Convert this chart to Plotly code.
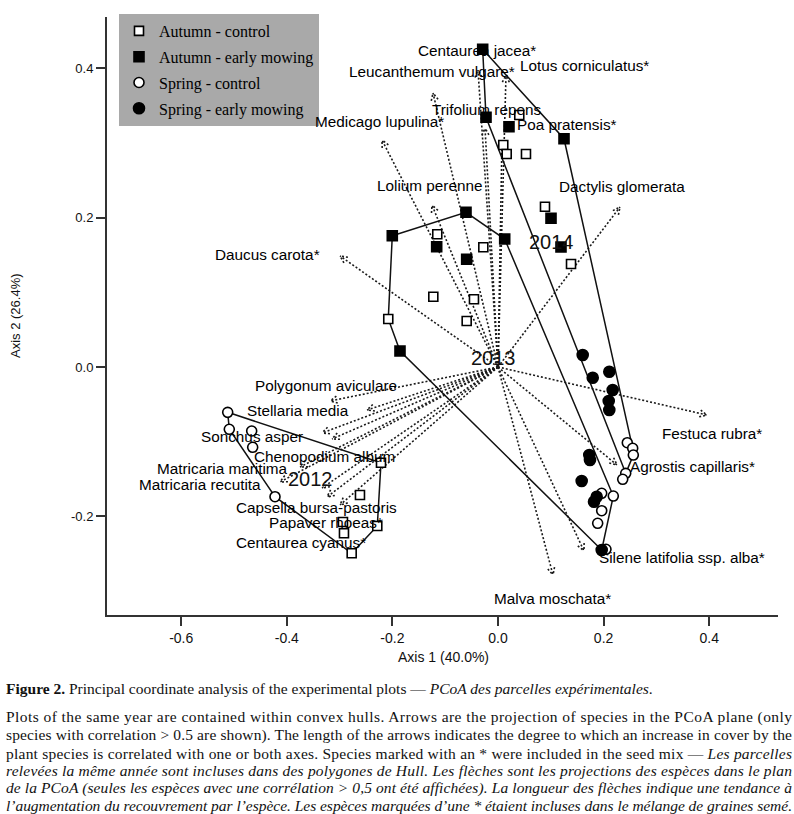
import math
import plotly.graph_objects as go

# --- point scores (Axis 1, Axis 2) ---
autumn_control_x = [0.0403, 0.0100, 0.0165, 0.0530, 0.0890, 0.1383,
                    -0.1150, -0.0278, -0.1225, -0.0455, -0.0593, -0.2078,
                    -0.2216, -0.2614, -0.2286, -0.2936, -0.2917, -0.2771]
autumn_control_y = [0.3375, 0.2973, 0.2853, 0.2853, 0.2147, 0.1379,
                    0.1777, 0.1603, 0.0941, 0.0907, 0.0616, 0.0643,
                    -0.1282, -0.1714, -0.2129, -0.2076, -0.2227, -0.2495]

autumn_mowing_x = [-0.0290, -0.0227, 0.0208, 0.1250, 0.1004, 0.1193,
                   -0.2002, -0.0606, 0.0127, -0.1161, -0.0593, -0.1856]
autumn_mowing_y = [0.4255, 0.3344, 0.3218, 0.3057, 0.1991, 0.1607,
                   0.1758, 0.2072, 0.1714, 0.1611, 0.1442, 0.0214]

spring_control_x = [-0.5119, -0.5089, -0.4665, -0.4646, -0.4223,
                    0.2449, 0.2551, 0.2563, 0.2419, 0.2362, 0.2184,
                    0.1964, 0.1964, 0.1888, 0.2045]
spring_control_y = [-0.0607, -0.0834, -0.0857, -0.1075, -0.1737,
                    -0.1014, -0.1089, -0.1179, -0.1424, -0.1504, -0.1728,
                    -0.1691, -0.1924, -0.2093, -0.2441]

spring_mowing_x = [0.1604, 0.1794, 0.2108, 0.2172, 0.2097, 0.2108,
                   0.1729, 0.1742, 0.1585, 0.1869, 0.1818, 0.1964]
spring_mowing_y = [0.0161, -0.0143, -0.0063, -0.0308, -0.0455, -0.0576,
                   -0.1179, -0.1245, -0.1527, -0.1737, -0.1804, -0.2451]

# --- convex hulls per year ---
hull_2012_x = [-0.5119, -0.2216, -0.2286, -0.2771, -0.4223, -0.5089, -0.5119]
hull_2012_y = [-0.0607, -0.1282, -0.2129, -0.2495, -0.1737, -0.0834, -0.0607]
hull_2013_x = [-0.2002, -0.0606, 0.0127, 0.2184, 0.1964, -0.1856, -0.2078, -0.2002]
hull_2013_y = [0.1758, 0.2072, 0.1714, -0.1728, -0.2451, 0.0214, 0.0643, 0.1758]
hull_2014_x = [-0.0290, 0.1250, 0.2551, 0.2563, 0.2419, -0.0227, -0.0290]
hull_2014_y = [0.4255, 0.3057, -0.1089, -0.1179, -0.1424, 0.3344, 0.4255]

years = ["2012", "2013", "2014"]
year_x = [-0.356, -0.0076, 0.1004]
year_y = [-0.150, 0.0121, 0.1674]

# --- species vectors ---
species = ["Centaurea jacea*", "Leucanthemum vulgare*", "Lotus corniculatus*",
           "Trifolium repens", "Poa pratensis*", "Medicago lupulina*",
           "Lolium perenne", "Daucus carota*", "Dactylis glomerata",
           "Festuca rubra*", "Agrostis capillaris*", "Silene latifolia ssp. alba*",
           "Malva moschata*", "Polygonum aviculare", "Stellaria media",
           "Sonchus asper", "Chenopodium album", "Matricaria maritima",
           "Matricaria recutita", "Capsella bursa-pastoris", "Papaver rhoeas*",
           "Centaurea cyanus*"]
vec_x = [-0.0379, -0.1231, 0.0152, -0.0246, 0.0076, -0.2197, -0.1250, -0.2992,
         0.2311, 0.3958, 0.2254, 0.1629, 0.1042, -0.3182, -0.2481, -0.3333,
         -0.3144, -0.3750, -0.4129, -0.3333, -0.3239, -0.2992]
vec_y = [0.3977, 0.3669, 0.3911, 0.3201, 0.3040, 0.3040, 0.2170, 0.1487,
         0.2143, -0.0643, -0.1312, -0.2464, -0.2786, -0.0455, -0.0576, -0.0884,
         -0.0964, -0.1339, -0.1540, -0.1620, -0.1741, -0.1848]
label_x = [-0.0398, -0.1250, 0.1629, -0.0227, 0.1307, -0.2235, -0.1288, -0.4356,
           0.2348, 0.4053, 0.3693, 0.3485, 0.1023, -0.3258, -0.3788, -0.4659,
           -0.3277, -0.5227, -0.5644, -0.3428, -0.3258, -0.3731]
label_y = [0.4232, 0.3951, 0.4044, 0.3442, 0.3241, 0.3281, 0.2437, 0.1513,
           0.2411, -0.0884, -0.1326, -0.2545, -0.3094, -0.0254, -0.0589, -0.0924,
           -0.1205, -0.1353, -0.1567, -0.1875, -0.2076, -0.2344]

x_ticks = [-0.6, -0.4, -0.2, 0.0, 0.2, 0.4]
y_ticks = [-0.2, 0.0, 0.2, 0.4]

# --- layout geometry ---
W, H = 794, 814
ML, MR, MT, MB = 107, 16, 17, 199
X_RANGE = [-0.7405, 0.5303]
Y_RANGE = [-0.3321, 0.4687]
PW, PH = W - ML - MR, H - MT - MB
SX = PW / (X_RANGE[1] - X_RANGE[0])
SY = PH / (Y_RANGE[1] - Y_RANGE[0])


def px(x):
    return (x - ML) / PW


def py(y):
    return 1 - (y - MT) / PH


# arrow shafts and heads (heads computed in pixel space)
arr_x, arr_y = [], []
HEAD, ANG = 8.0, 0.45
for tx, ty in zip(vec_x, vec_y):
    dx, dy = tx * SX, ty * SY
    n = math.hypot(dx, dy)
    ux, uy = dx / n, dy / n
    arr_x += [0, tx, None]
    arr_y += [0, ty, None]
    for a in (ANG, -ANG):
        c, s = math.cos(a), math.sin(a)
        bx = -(ux * c - uy * s) * HEAD
        by = -(ux * s + uy * c) * HEAD
        arr_x += [tx + bx / SX, tx, None]
        arr_y += [ty + by / SY, ty, None]

fig = go.Figure()

fig.add_trace(go.Scatter(
    x=arr_x, y=arr_y, mode="lines", hoverinfo="skip", showlegend=False,
    line=dict(color="#1a1a1a", width=1.6, dash="2px,2px")
))

for hx, hy in [(hull_2012_x, hull_2012_y), (hull_2013_x, hull_2013_y),
               (hull_2014_x, hull_2014_y)]:
    fig.add_trace(go.Scatter(
        x=hx, y=hy, mode="lines", showlegend=False, hoverinfo="skip",
        line=dict(color="#111111", width=1.5)
    ))

groups = [
    ("Autumn - control", autumn_control_x, autumn_control_y, "square", "white", 9),
    ("Autumn - early mowing", autumn_mowing_x, autumn_mowing_y, "square", "black", 10),
    ("Spring - control", spring_control_x, spring_control_y, "circle", "white", 10),
    ("Spring - early mowing", spring_mowing_x, spring_mowing_y, "circle", "black", 11),
]
for i, (name, gx, gy, sym, fill, size) in enumerate(groups):
    fig.add_trace(go.Scatter(
        x=gx, y=gy, mode="markers", name=name, legendgroup=str(i),
        marker=dict(symbol=sym, color=fill, size=size,
                    line=dict(color="black", width=1.6))
    ))

annotations = []
for name, lx, ly in zip(species, label_x, label_y):
    annotations.append(dict(
        x=lx, y=ly, xref="x", yref="y", text=name, showarrow=False,
        xanchor="center", yanchor="middle",
        font=dict(family="Liberation Sans, Arial", size=15.3, color="#000")
    ))
for yr, yx, yy in zip(years, year_x, year_y):
    annotations.append(dict(
        x=yx, y=yy, xref="x", yref="y", text=yr, showarrow=False,
        xanchor="center", yanchor="middle",
        font=dict(family="Liberation Sans, Arial", size=20, color="#111")
    ))

# axis titles
annotations.append(dict(
    x=px(443), y=py(657), xref="paper", yref="paper", text="Axis 1 (40.0%)",
    showarrow=False, xanchor="center", yanchor="middle",
    font=dict(family="Liberation Sans Narrow, Liberation Sans, Arial", size=14, color="#111")
))
annotations.append(dict(
    x=px(15), y=py(316), xref="paper", yref="paper", text="Axis 2 (26.4%)",
    showarrow=False, xanchor="center", yanchor="middle", textangle=-90,
    font=dict(family="Liberation Sans, Arial", size=13, color="#111")
))

# caption
caption_title = ("<b>Figure 2.</b> Principal coordinate analysis of the experimental plots \u2014 "
                 "<i>PCoA des parcelles exp\u00e9rimentales</i>.")
caption_lines = [
    "Plots of the same year are contained within convex hulls. Arrows are the projection "
    "of species in the PCoA plane (only",
    "species with correlation > 0.5 are shown). The length of the arrows indicates the "
    "degree to which an increase in cover by the",
    "plant species is correlated with one or both axes. Species marked with an * were "
    "included in the seed mix \u2014 <i>Les parcelles</i>",
    "<i>relev\u00e9es la m\u00eame ann\u00e9e sont incluses dans des polygones de Hull. "
    "Les fl\u00e8ches sont les projections des esp\u00e8ces dans le plan</i>",
    "<i>de la PCoA (seules les esp\u00e8ces avec une corr\u00e9lation > 0,5 ont \u00e9t\u00e9 "
    "affich\u00e9es). La longueur des fl\u00e8ches indique une tendance \u00e0</i>",
    "<i>l\u2019augmentation du recouvrement par l\u2019esp\u00e8ce. Les esp\u00e8ces "
    "marqu\u00e9es d\u2019une * \u00e9taient incluses dans le m\u00e9lange de graines sem\u00e9.</i>",
]
caption_y = [717, 735, 753, 770.5, 788, 806]
cap_font = dict(family="Liberation Serif, Times New Roman", size=15.5, color="#111")

annotations.append(dict(
    x=px(4), y=py(688), xref="paper", yref="paper", text=caption_title,
    showarrow=False, xanchor="left", yanchor="middle", align="left", font=cap_font
))
justify_idx = []
for txt, cy in zip(caption_lines, caption_y):
    justify_idx.append(len(annotations))
    annotations.append(dict(
        x=px(4), y=py(cy), xref="paper", yref="paper", text=txt, showarrow=False,
        xanchor="left", yanchor="middle", align="left", font=cap_font
    ))

fig.update_layout(
    width=W, height=H,
    margin=dict(l=ML, r=MR, t=MT, b=MB),
    plot_bgcolor="white", paper_bgcolor="white",
    annotations=annotations,
    showlegend=True,
    legend=dict(
        x=px(119), y=py(14), xanchor="left", yanchor="top",
        bgcolor="#a9a9a9", borderwidth=0, tracegroupgap=2,
        font=dict(family="Liberation Serif, Times New Roman", size=16, color="black")
    ),
)
fig.update_xaxes(
    range=X_RANGE, showgrid=False, zeroline=False,
    showline=True, linecolor="#333", linewidth=2,
    ticks="outside", ticklen=9, tickwidth=2, tickcolor="#333",
    tickvals=x_ticks, ticktext=["%.1f" % v for v in x_ticks],
    tickfont=dict(family="Liberation Sans Narrow, Liberation Sans, Arial", size=14, color="#111")
)
fig.update_yaxes(
    range=Y_RANGE, showgrid=False, zeroline=False,
    showline=True, linecolor="#333", linewidth=2,
    ticks="outside", ticklen=9, tickwidth=2, tickcolor="#333",
    tickvals=y_ticks, ticktext=["%.1f" % v for v in y_ticks],
    tickfont=dict(family="Liberation Sans, Arial", size=13, color="#111")
)

# remove page margin and justify the caption paragraph to the text block width
post_js = """
document.body.style.margin = '0';
try {
  var gd = document.getElementById('{plot_id}');
  var idx = %s;
  idx.forEach(function(i) {
    var t = gd.querySelector('g.annotation[data-index="' + i + '"] text.annotation-text');
    if (t) { t.setAttribute('textLength', '786'); t.setAttribute('lengthAdjust', 'spacing'); }
  });
} catch (e) {}
""" % str(justify_idx)

fig.write_html("out.html", post_script=post_js, config={"displayModeBar": False})
